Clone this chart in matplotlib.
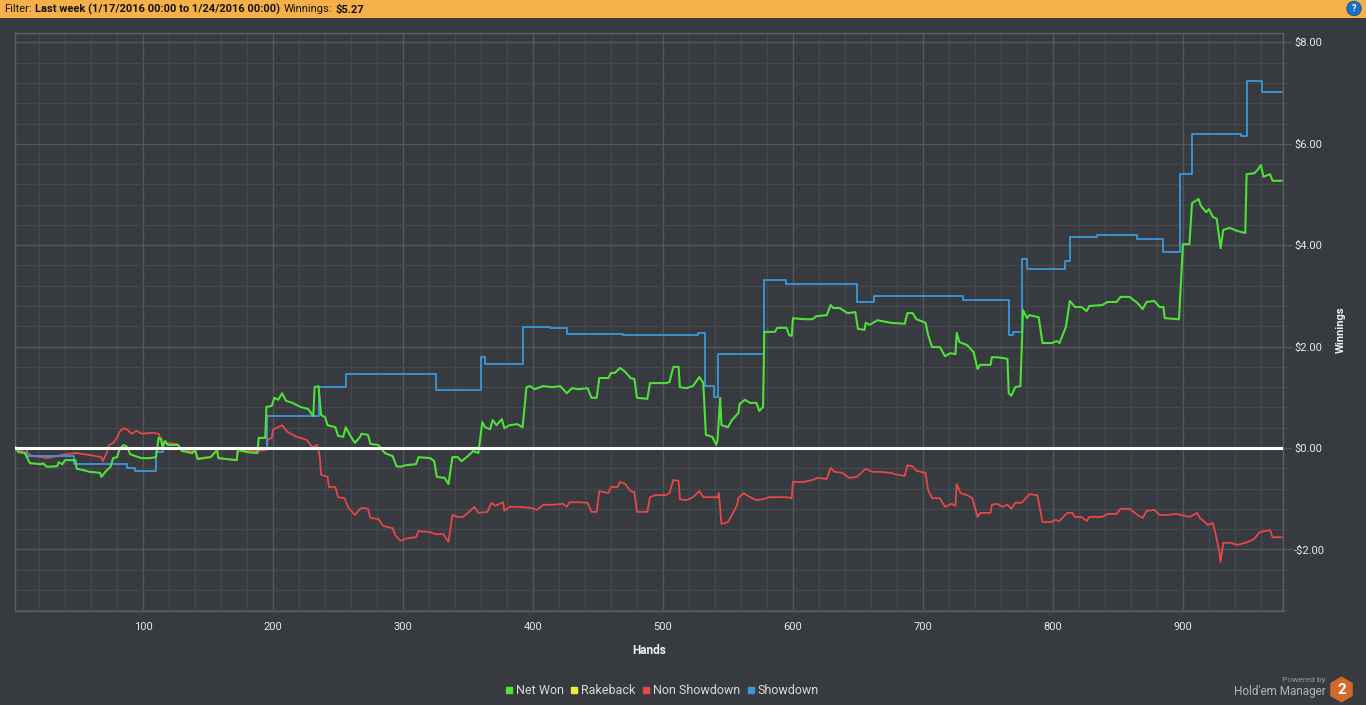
import matplotlib
matplotlib.use('Agg')
import matplotlib.pyplot as plt
from matplotlib.patches import Rectangle, RegularPolygon
from matplotlib.lines import Line2D
from matplotlib.ticker import MultipleLocator, FuncFormatter

plt.rcParams['font.family'] = ['Roboto', 'DejaVu Sans']

# ---------------- data (hand number, cumulative $) ----------------
net_won_points = [
    (1, 0.00), (2, 0.02), (4, -0.08), (9, -0.10), (13, -0.30), (22, -0.32), (23, -0.30), (26, -0.37),
    (34, -0.36), (35, -0.28), (38, -0.32), (40, -0.24), (48, -0.24), (49, -0.41), (53, -0.43), (59, -0.47),
    (67, -0.49), (68, -0.57), (71, -0.47), (75, -0.37), (77, -0.20), (80, -0.18), (82, -0.02), (85, 0.06),
    (88, 0.02), (90, -0.12), (94, -0.16), (99, -0.20), (105, -0.20), (110, -0.18), (112, 0.20), (114, 0.18),
    (115, 0.00), (117, 0.14), (119, 0.06), (127, 0.06), (130, -0.06), (138, -0.10), (140, -0.04), (142, -0.22),
    (152, -0.18), (157, -0.04), (158, -0.20), (172, -0.24), (173, -0.04), (180, -0.08), (188, -0.10), (189, 0.20),
    (194, 0.20), (195, 0.81), (199, 0.83), (201, 0.99), (204, 0.95), (207, 1.08), (210, 0.93), (215, 0.89),
    (221, 0.81), (227, 0.77), (231, 0.63), (232, 1.20), (235, 1.22), (237, 0.65), (240, 0.61), (242, 0.45),
    (248, 0.41), (250, 0.24), (254, 0.22), (256, 0.41), (259, 0.26), (263, 0.10), (267, 0.22), (268, 0.28),
    (273, 0.26), (275, 0.08), (281, 0.06), (286, -0.10), (292, -0.16), (295, -0.36), (298, -0.37), (302, -0.34),
    (310, -0.32), (312, -0.18), (321, -0.20), (324, -0.26), (326, -0.57), (332, -0.59), (335, -0.71), (338, -0.18),
    (342, -0.18), (345, -0.26), (350, -0.16), (354, -0.06), (358, -0.10), (361, 0.51), (363, 0.41), (367, 0.37),
    (369, 0.55), (372, 0.45), (376, 0.57), (378, 0.39), (382, 0.45), (388, 0.47), (392, 0.41), (395, 1.20),
    (398, 1.22), (401, 1.16), (408, 1.22), (415, 1.20), (421, 1.22), (426, 1.08), (430, 1.18), (435, 1.16),
    (442, 1.18), (445, 0.99), (449, 0.99), (451, 1.38), (458, 1.38), (460, 1.48), (463, 1.48), (467, 1.58),
    (471, 1.50), (475, 1.38), (478, 1.36), (480, 0.99), (488, 0.97), (490, 1.28), (502, 1.28), (505, 1.30),
    (508, 1.60), (512, 1.60), (513, 1.20), (518, 1.18), (523, 1.22), (528, 1.40), (531, 1.28), (533, 0.26),
    (538, 0.22), (541, 0.06), (542, 0.16), (544, 0.99), (545, 0.45), (550, 0.41), (553, 0.55), (558, 0.69),
    (559, 0.87), (563, 0.95), (567, 0.89), (572, 0.89), (574, 0.73), (577, 0.81), (578, 2.29), (586, 2.29),
    (588, 2.37), (595, 2.37), (597, 2.23), (599, 2.21), (600, 2.56), (608, 2.54), (615, 2.54), (618, 2.60),
    (626, 2.62), (629, 2.82), (631, 2.76), (636, 2.76), (642, 2.66), (648, 2.68), (650, 2.35), (655, 2.33),
    (656, 2.47), (659, 2.43), (665, 2.52), (669, 2.50), (675, 2.47), (686, 2.45), (688, 2.66), (692, 2.66),
    (695, 2.54), (702, 2.47), (704, 2.23), (707, 1.99), (713, 1.99), (717, 1.81), (721, 1.87), (725, 1.85),
    (726, 2.27), (728, 2.09), (734, 2.03), (739, 1.89), (742, 1.56), (744, 1.64), (752, 1.64), (753, 1.79),
    (757, 1.79), (765, 1.76), (766, 1.08), (768, 1.03), (771, 1.20), (775, 1.22), (777, 2.72), (780, 2.56),
    (782, 2.62), (789, 2.58), (792, 2.07), (799, 2.07), (803, 2.11), (805, 2.07), (810, 2.39), (813, 2.90),
    (817, 2.78), (822, 2.78), (826, 2.70), (828, 2.80), (838, 2.82), (842, 2.88), (849, 2.88), (852, 2.98),
    (859, 2.98), (865, 2.86), (869, 2.74), (872, 2.88), (878, 2.90), (882, 2.78), (885, 2.78), (886, 2.56),
    (897, 2.54), (900, 4.02), (905, 4.02), (907, 4.83), (912, 4.91), (914, 4.77), (918, 4.65), (920, 4.71),
    (923, 4.56), (926, 4.52), (929, 3.94), (931, 4.30), (936, 4.34), (942, 4.28), (948, 4.24), (949, 5.40),
    (955, 5.42), (958, 5.50), (960, 5.58), (962, 5.35), (967, 5.40), (969, 5.27), (976, 5.27),
]

non_showdown_points = [
    (1, 0.00), (2, 0.02), (5, -0.04), (11, -0.10), (15, -0.16), (22, -0.18), (26, -0.20), (34, -0.16),
    (40, -0.12), (49, -0.10), (59, -0.14), (68, -0.18), (69, -0.26), (72, -0.10), (74, 0.06), (77, 0.10),
    (80, 0.20), (82, 0.32), (85, 0.39), (88, 0.36), (91, 0.28), (95, 0.34), (99, 0.28), (107, 0.30),
    (112, 0.28), (114, 0.12), (117, 0.10), (126, 0.08), (130, -0.04), (138, -0.06), (140, -0.02), (142, -0.20),
    (152, -0.18), (157, -0.04), (158, -0.20), (172, -0.24), (173, -0.04), (188, -0.06), (195, -0.04), (196, 0.16),
    (199, 0.20), (200, 0.36), (207, 0.45), (211, 0.32), (218, 0.22), (226, 0.16), (230, 0.02), (234, 0.06),
    (236, -0.18), (237, -0.53), (242, -0.57), (243, -0.77), (248, -0.77), (250, -0.97), (255, -0.99), (258, -1.18),
    (263, -1.32), (267, -1.20), (269, -1.18), (273, -1.20), (275, -1.38), (281, -1.40), (285, -1.54), (292, -1.58),
    (294, -1.72), (298, -1.83), (303, -1.78), (310, -1.76), (312, -1.64), (321, -1.66), (325, -1.70), (331, -1.70),
    (335, -1.85), (338, -1.32), (342, -1.36), (346, -1.36), (350, -1.28), (355, -1.16), (358, -1.28), (365, -1.26),
    (368, -1.08), (371, -1.14), (377, -1.07), (378, -1.24), (382, -1.16), (388, -1.16), (398, -1.18), (403, -1.22),
    (408, -1.12), (415, -1.12), (423, -1.10), (426, -1.16), (428, -1.07), (435, -1.07), (442, -1.08), (445, -1.26),
    (449, -1.26), (451, -0.85), (458, -0.89), (460, -0.77), (465, -0.77), (467, -0.67), (471, -0.71), (475, -0.85),
    (478, -0.87), (480, -1.26), (488, -1.26), (490, -0.97), (494, -0.93), (502, -0.93), (505, -0.89), (508, -0.63),
    (512, -0.65), (513, -1.01), (518, -1.03), (523, -0.97), (528, -0.85), (531, -0.97), (542, -0.97), (543, -0.89),
    (545, -1.50), (550, -1.46), (554, -1.28), (557, -1.12), (558, -0.99), (562, -0.89), (567, -0.97), (572, -1.03),
    (577, -1.01), (582, -0.97), (588, -0.97), (595, -0.97), (599, -0.99), (600, -0.67), (608, -0.67), (615, -0.63),
    (619, -0.59), (626, -0.61), (629, -0.39), (632, -0.47), (638, -0.49), (642, -0.57), (644, -0.59), (649, -0.57),
    (656, -0.41), (661, -0.47), (667, -0.47), (675, -0.49), (681, -0.53), (686, -0.55), (688, -0.34), (692, -0.36),
    (695, -0.45), (702, -0.49), (704, -0.83), (707, -0.99), (713, -0.99), (717, -1.16), (722, -1.10), (725, -1.14),
    (726, -0.71), (729, -0.89), (734, -0.93), (738, -0.99), (742, -1.36), (744, -1.28), (752, -1.28), (753, -1.12),
    (757, -1.10), (761, -1.16), (765, -1.12), (768, -1.20), (771, -1.08), (776, -1.08), (782, -0.91), (788, -0.93),
    (792, -1.46), (798, -1.46), (802, -1.42), (805, -1.44), (811, -1.28), (815, -1.28), (817, -1.36), (822, -1.36),
    (826, -1.44), (828, -1.36), (838, -1.36), (842, -1.30), (849, -1.30), (852, -1.20), (859, -1.20), (865, -1.32),
    (869, -1.38), (872, -1.24), (878, -1.22), (882, -1.32), (888, -1.32), (895, -1.30), (905, -1.36), (911, -1.28),
    (913, -1.38), (917, -1.46), (919, -1.52), (923, -1.48), (925, -1.68), (928, -2.05), (929, -2.25), (931, -1.87),
    (936, -1.87), (942, -1.91), (948, -1.87), (952, -1.83), (955, -1.79), (959, -1.66), (967, -1.62), (969, -1.76),
    (976, -1.76),
]

showdown_hands = [1, 11, 47, 88, 94, 110, 115, 195, 235, 256, 325, 360, 363, 392, 413, 426, 469, 527, 532,
                  539, 542, 578, 595, 649, 662, 731, 766, 769, 776, 780, 809, 813, 834, 865, 885, 898, 907,
                  945, 949, 961, 976]
showdown_vals = [0.00, -0.16, -0.32, -0.40, -0.45, -0.08, -0.02, 0.63, 1.20, 1.46, 1.15, 1.80, 1.66, 2.39,
                 2.37, 2.25, 2.23, 2.27, 1.22, 1.00, 1.86, 3.32, 3.24, 2.88, 3.00, 2.92, 2.23, 2.29, 3.73,
                 3.53, 3.69, 4.17, 4.20, 4.13, 3.87, 5.41, 6.20, 6.16, 7.23, 7.03, 7.03]

rakeback_hands = [1, 976]
rakeback_vals = [0.0, 0.0]

series_names = ['Net Won', 'Rakeback', 'Non Showdown', 'Showdown']
series_colors = ['#4fe03a', '#f2e93a', '#e5484a', '#3b98d8']

header_parts = [('Filter:', 'normal'), ('Last week (1/17/2016 00:00 to 1/24/2016 00:00)', 'bold'),
                ('Winnings:', 'normal'), ('$5.27', 'bold')]
x_label = 'Hands'
y_label = 'Winnings'

# ---------------- figure ----------------
W, H = 1366, 705
BG = '#373a3e'
fig = plt.figure(figsize=(W / 100, H / 100), dpi=100, facecolor=BG)

ax = fig.add_axes([15 / W, (H - 611) / H, 1268 / W, 578 / H])
ax.set_facecolor(BG)
ax.set_xlim(1.5, 977)
ax.set_ylim(-3.215, 8.185)

ax.xaxis.set_major_locator(MultipleLocator(100))
ax.xaxis.set_minor_locator(MultipleLocator(20))
ax.yaxis.set_major_locator(MultipleLocator(2))
ax.yaxis.set_minor_locator(MultipleLocator(0.4))
ax.grid(which='major', color='#55585c', lw=1.0, zorder=0)
ax.grid(which='minor', color='#45484c', lw=1.0, zorder=0)
ax.set_axisbelow(True)

ax.yaxis.tick_right()
ax.yaxis.set_major_formatter(FuncFormatter(lambda v, p: ('-$%.2f' % abs(v)) if v < 0 else ('$%.2f' % v)))
ax.tick_params(axis='y', which='major', length=6.5, width=1, color='#55585c',
               labelcolor='#e8e8e8', labelsize=8, pad=1.5)
ax.tick_params(axis='y', which='minor', length=3.5, width=1, color='#45484c')
ax.tick_params(axis='x', which='both', length=0, labelcolor='#e8e8e8', labelsize=8, pad=8)
for s in ax.spines.values():
    s.set_color('#5c5f63')
    s.set_linewidth(1.0)

# lines
nw_h = [p[0] for p in net_won_points]
nw_v = [p[1] for p in net_won_points]
ns_h = [p[0] for p in non_showdown_points]
ns_v = [p[1] for p in non_showdown_points]

ax.plot(rakeback_hands, rakeback_vals, color=series_colors[1], lw=1.2, zorder=2)
ax.plot(ns_h, ns_v, color=series_colors[2], lw=1.3, zorder=3)
ax.plot(showdown_hands, showdown_vals, color=series_colors[3], lw=1.3, drawstyle='steps-post', zorder=3)
ax.plot(nw_h, nw_v, color=series_colors[0], lw=1.5, zorder=4)
ax.axhline(0, color='white', lw=2.2, zorder=5)

# axis labels
fig.text(649 / W, 1 - 650 / H, x_label, ha='center', va='center', color='#f0f0f0',
         fontsize=8.5, fontweight='bold')
fig.text(1341 / W, 1 - 330 / H, y_label, ha='center', va='center', rotation=90,
         color='#f0f0f0', fontsize=8, fontweight='bold')

# legend
handles = [Line2D([], [], marker='s', ls='none', color=c, markersize=5) for c in series_colors]
fig.legend(handles, series_names, loc='center', bbox_to_anchor=(662 / W, 1 - 691 / H), ncol=4,
           frameon=False, handlelength=0.6, handletextpad=0.25, columnspacing=0.55,
           fontsize=9, labelcolor='#d8d8d8', borderaxespad=0, borderpad=0)

# header bar
fig.patches.append(Rectangle((0, 1 - 18 / H), 1, 18 / H, transform=fig.transFigure,
                             facecolor='#f5b04a', edgecolor='none', zorder=0))
fig.canvas.draw()
renderer = fig.canvas.get_renderer()
xp = 4
for txt, wt in header_parts:
    t = fig.text(xp / W, 1 - 9.5 / H, txt, ha='left', va='center', fontsize=8, fontweight=wt,
                 color='#141414')
    bb = t.get_window_extent(renderer=renderer)
    xp += bb.width + 3.5

# help icon
fig.text(1354 / W, 1 - 8.5 / H, '?', ha='center', va='center', color='white', fontsize=6.5,
         fontweight='bold', bbox=dict(boxstyle='circle,pad=0.3', fc='#1d70c4', ec='#0e4f99', lw=0.6))

# branding
fig.text(1326 / W, 1 - 680 / H, 'Powered by', ha='right', va='center', color='#9a9a9a', fontsize=6)
fig.text(1326 / W, 1 - 691 / H, "Hold'em Manager", ha='right', va='center', color='#b4b4b4', fontsize=8.5)
lax = fig.add_axes([1329 / W, (H - 703) / H, 25 / W, 27 / H])
lax.set_xlim(-12.5, 12.5)
lax.set_ylim(-13.5, 13.5)
lax.axis('off')
lax.add_patch(RegularPolygon((0, 0), numVertices=6, radius=13, orientation=0, facecolor='#d5692b',
                             edgecolor='none'))
lax.text(0, -0.5, '2', ha='center', va='center', color='white', fontsize=11, fontweight='bold')

fig.savefig('out.png', dpi=100, facecolor=BG)
